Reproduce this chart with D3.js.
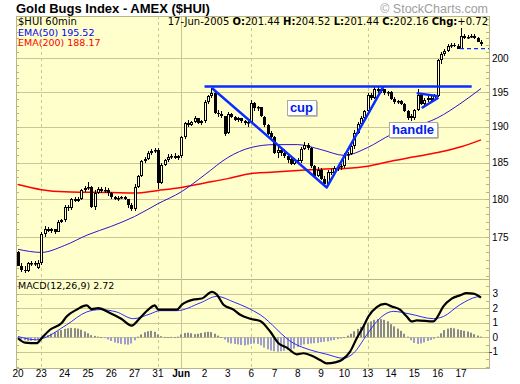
<!DOCTYPE html>
<html>
<head>
<meta charset="utf-8">
<script src="https://cdn.jsdelivr.net/npm/d3@7"></script>
<style>
  body { margin: 0; background: #fff; }
  svg { display: block; }
</style>
</head>
<body>
<svg id="chart" width="520" height="384"></svg>
<script>
// Trading days shown on the x axis (7 hourly bars per day)
const days = ["20", "23", "24", "25", "26", "27", "31", "Jun", "2", "3", "6", "7", "8", "9", "10", "13", "14", "15", "16", "17"];
const weekStarts = ["23", "31", "6", "13"];
const monthStarts = ["Jun"];
const barsPerDay = 7;

// 60 minute bars, one row per day
const opens = [
  173.0, 171.3, 170.8, 170.6, 171.6, 171.5, 171.0,
  171.7, 175.4, 176.0, 175.8, 176.0, 175.7, 177.0,
  177.2, 179.0, 178.8, 180.0, 179.8, 180.1, 181.3,
  181.5, 181.6, 179.0, 180.9, 181.4, 181.1, 181.3,
  180.8, 180.3, 180.1, 180.2, 180.3, 180.0, 179.3,
  178.7, 181.7, 183.1, 185.2, 185.5, 186.3, 186.6,
  186.8, 182.2, 184.7, 185.3, 185.8, 185.9, 185.7,
  185.9, 188.5, 190.5, 190.3, 190.7, 191.2, 190.6,
  190.8, 193.6, 194.4, 194.9, 192.0, 191.8, 191.5,
  189.2, 191.8, 191.4, 191.0, 191.2, 190.8, 190.5,
  190.7, 193.4, 192.7, 192.8, 191.4, 190.2, 189.1,
  188.5, 186.4, 186.8, 186.3, 185.9, 185.5, 184.8,
  185.4, 185.2, 186.9, 187.5, 187.0, 184.5, 183.2,
  184.0, 182.8, 182.0, 183.7, 183.6, 184.2, 184.4,
  184.5, 186.0, 186.2, 187.3, 189.2, 190.4, 191.3,
  192.2, 194.6, 194.2, 195.4, 195.1, 195.4, 194.9,
  195.0, 194.0, 193.5, 193.7, 193.3, 192.3, 191.2,
  191.3, 192.4, 194.6, 193.3, 193.9, 194.2, 193.9,
  194.5, 199.7, 200.7, 201.1, 201.8, 202.0, 201.9,
  201.44, 203.4, 203.1, 203.2, 203.3, 203.0, 202.5
];
const highs = [
  173.2, 171.6, 171.2, 171.8, 171.9, 171.9, 172.0,
  175.6, 176.4, 176.3, 176.2, 176.1, 177.2, 177.4,
  179.3, 179.2, 180.2, 180.3, 180.3, 181.4, 181.8,
  182.3, 181.8, 181.2, 181.7, 181.6, 181.7, 181.5,
  181.0, 180.5, 180.4, 180.5, 180.4, 180.1, 179.5,
  182.0, 183.3, 185.3, 185.8, 186.6, 186.9, 187.0,
  187.0, 184.9, 185.5, 186.2, 186.2, 186.3, 186.1,
  188.7, 190.7, 191.0, 190.9, 191.5, 191.3, 191.0,
  193.8, 194.6, 195.6, 195.1, 192.4, 192.2, 191.6,
  192.1, 192.0, 191.6, 191.4, 191.3, 191.0, 190.9,
  193.8, 193.6, 193.0, 192.9, 191.5, 190.4, 189.4,
  188.7, 187.2, 187.0, 186.9, 186.1, 185.8, 185.6,
  185.7, 187.1, 187.9, 187.7, 187.1, 184.6, 184.4,
  184.2, 183.1, 184.0, 184.1, 184.5, 184.6, 184.8,
  186.3, 186.5, 187.5, 189.5, 190.7, 191.6, 192.4,
  194.8, 194.9, 195.7, 195.7, 195.6, 195.5, 195.2,
  195.1, 194.3, 193.9, 193.9, 193.4, 192.4, 191.8,
  192.6, 195.4, 194.7, 194.2, 194.6, 194.5, 194.7,
  199.9, 201.0, 201.4, 202.1, 202.3, 202.3, 202.2,
  204.52, 203.6, 203.5, 203.6, 203.6, 203.2, 202.7
];
const lows = [
  171.2, 170.5, 170.3, 170.5, 171.3, 171.2, 170.9,
  171.4, 175.0, 175.6, 175.5, 175.4, 175.6, 176.8,
  177.0, 178.5, 178.6, 179.6, 179.6, 179.9, 181.0,
  181.2, 178.8, 178.6, 180.7, 180.9, 180.9, 180.5,
  180.0, 179.9, 179.8, 180.0, 179.9, 178.9, 178.5,
  178.5, 181.5, 183.0, 184.9, 185.4, 186.0, 186.3,
  181.4, 182.0, 184.5, 185.1, 185.5, 185.5, 185.3,
  185.7, 188.3, 190.0, 190.1, 190.5, 190.4, 190.3,
  190.6, 193.3, 194.1, 191.8, 191.4, 191.3, 188.7,
  189.0, 191.2, 190.9, 190.7, 190.6, 190.2, 190.0,
  190.6, 192.3, 192.2, 191.4, 190.0, 188.8, 188.3,
  186.2, 185.6, 185.9, 185.7, 184.9, 184.6, 184.6,
  184.9, 185.0, 186.7, 186.8, 184.3, 183.0, 183.0,
  182.6, 181.6, 181.9, 183.3, 183.4, 183.8, 184.0,
  184.3, 185.4, 186.0, 186.9, 189.0, 190.2, 191.0,
  192.0, 193.8, 194.0, 194.8, 194.9, 194.6, 194.5,
  193.8, 193.3, 193.3, 193.1, 192.1, 191.0, 190.9,
  191.0, 192.2, 193.1, 193.2, 193.6, 193.7, 193.8,
  194.3, 199.2, 200.3, 200.9, 201.6, 201.7, 201.4,
  201.44, 202.9, 202.9, 203.0, 202.9, 202.4, 201.9
];
const closes = [
  171.3, 170.8, 170.6, 171.6, 171.6, 171.7, 171.7,
  175.4, 176.0, 175.8, 176.0, 175.7, 177.0, 177.2,
  179.0, 178.8, 180.0, 179.8, 180.1, 181.3, 181.5,
  181.6, 179.0, 180.9, 181.4, 181.1, 181.3, 180.8,
  180.3, 180.1, 180.2, 180.3, 180.0, 179.3, 178.7,
  181.7, 183.1, 185.2, 185.5, 186.3, 186.6, 186.8,
  182.2, 184.7, 185.3, 185.8, 185.9, 185.7, 185.9,
  188.5, 190.5, 190.3, 190.7, 191.2, 190.6, 190.8,
  193.6, 194.4, 194.9, 192.0, 191.8, 191.5, 189.0,
  191.8, 191.4, 191.0, 191.2, 190.8, 190.5, 190.7,
  193.4, 192.7, 192.8, 191.6, 190.2, 189.0, 188.5,
  186.4, 186.8, 186.3, 185.9, 185.3, 184.8, 185.4,
  185.2, 186.9, 187.5, 187.0, 184.5, 183.2, 184.0,
  182.8, 182.0, 183.7, 183.6, 184.2, 184.4, 184.5,
  186.0, 186.2, 187.3, 189.2, 190.4, 191.3, 192.2,
  194.6, 194.2, 195.4, 195.1, 195.4, 194.9, 195.0,
  194.0, 193.5, 193.7, 193.3, 192.3, 191.2, 191.5,
  192.4, 194.6, 193.3, 193.9, 194.2, 193.9, 194.5,
  199.7, 200.7, 201.1, 201.8, 202.0, 201.9, 201.44,
  203.4, 203.1, 203.2, 203.3, 203.0, 202.5, 202.16
];

// Moving averages read at the first bar of each day (plus the last bar)
const emaIdx = [0, 7, 14, 21, 28, 35, 42, 49, 56, 63, 70, 77, 84, 91, 98, 105, 112, 119, 126, 133, 139];
const ema50 = [173.4, 173.0, 173.9, 175.3, 176.4, 177.7, 179.4, 181.0, 183.3, 185.7, 187.1, 187.5, 187.5, 186.8, 186.0, 187.1, 188.9, 190.0, 191.3, 193.4, 195.52];
const ema200 = [182.0, 181.3, 181.0, 180.95, 180.9, 180.85, 181.2, 181.6, 182.2, 182.8, 183.5, 183.7, 183.9, 184.1, 184.2, 184.5, 185.2, 185.8, 186.4, 187.2, 188.17];

// MACD(12,26,9)
const macdIdx = [0, 2.1, 5.6, 7.1, 9.6, 13.1, 14.6, 17.6, 20.6, 22.1, 24.1, 27.6, 31.1, 34.1, 36.6, 39.1, 41.1, 42.1, 47.7, 49.2, 52.6, 55.2, 58.2, 59.7, 61.7, 64.7, 66.7, 69.7, 72.7, 75.7, 78.2, 80.7, 83.7, 85.7, 88.2, 90.7, 92.7, 95.2, 97.2, 99.7, 101.7, 103.7, 105.2, 107.7, 110.2, 112.2, 114.7, 116.7, 118.2, 119.7, 124.7, 125.7, 127.7, 130.2, 132.7, 134.7, 136.7, 139];
const macdVals = [-0.06, -0.36, -0.4, -0.06, 0.52, 0.98, 1.43, 1.9, 2.19, 1.94, 2.0, 1.67, 1.26, 0.81, 1.32, 1.9, 2.19, 1.9, 1.9, 2.24, 2.59, 2.66, 3.12, 2.93, 2.24, 1.9, 1.55, 1.28, 1.12, 0.4, -0.4, -0.7, -1.16, -1.09, -1.26, -1.55, -1.78, -1.71, -1.55, -0.98, -0.06, 0.74, 1.43, 2.08, 2.29, 2.12, 1.9, 1.43, 1.09, 1.16, 1.09, 1.32, 2.12, 2.66, 2.88, 3.03, 3.0, 2.72];
const sigIdx = [0, 5.6, 7.6, 14.6, 20.6, 24.6, 29.6, 34.6, 39.6, 42.6, 47.7, 54.7, 59.7, 64.7, 72.7, 82.7, 87.7, 92.7, 97.7, 100.7, 104.7, 107.7, 112.7, 117.7, 124.7, 127.7, 132.7, 137.7, 139];
const sigVals = [0.06, -0.17, -0.06, 0.86, 1.74, 1.9, 1.74, 1.28, 1.6, 1.83, 1.83, 2.36, 2.81, 2.43, 1.55, -0.4, -0.86, -1.16, -1.43, -1.09, 0.17, 1.09, 1.78, 1.6, 1.28, 1.43, 2.24, 2.77, 2.81];
const histVals = [
  -0.05, -0.15, -0.2, -0.25, -0.25, -0.22, -0.18,
  -0.08, 0.05, 0.15, 0.25, 0.33, 0.42, 0.5,
  0.58, 0.62, 0.65, 0.63, 0.6, 0.52, 0.4,
  0.28, 0.15, 0.1, 0.05, 0.02, -0.05, -0.15,
  -0.25, -0.35, -0.4, -0.45, -0.48, -0.5, -0.42,
  -0.2, 0.05, 0.2, 0.35, 0.42, 0.45, 0.38,
  0.2, 0.08, 0.03, 0.02, 0.03, 0.02, 0.05,
  0.2, 0.3, 0.32, 0.28, 0.22, 0.25, 0.3,
  0.35, 0.38, 0.36, 0.25, 0.12, 0.02, -0.15,
  -0.35, -0.42, -0.45, -0.48, -0.52, -0.55, -0.5,
  -0.45, -0.42, -0.45, -0.55, -0.7, -0.82, -0.9,
  -0.95, -0.98, -0.95, -0.92, -0.88, -0.85, -0.78,
  -0.65, -0.55, -0.48, -0.45, -0.42, -0.4, -0.38,
  -0.33, -0.3, -0.28, -0.22, -0.18, -0.12, -0.08,
  0.02, 0.12, 0.25, 0.42, 0.58, 0.72, 0.88,
  1.0, 1.1, 1.2, 1.26, 1.25, 1.2, 1.1,
  0.9, 0.75, 0.6, 0.45, 0.25, 0.05, -0.2,
  -0.38, -0.45, -0.42, -0.35, -0.25, -0.18, -0.1,
  0.05, 0.28, 0.5, 0.6, 0.65, 0.62, 0.55,
  0.5, 0.45, 0.4, 0.32, 0.22, 0.12, 0.05
];

// Axis ticks
const priceTicks = [175, 180, 185, 190, 195, 200];
const macdTicks = [3, 2, 1, 0, -1];

// Cup and handle drawing (bar index, price)
const resistance = [{ i: 56, p: 195.8 }, { i: 136.2, p: 195.8 }];
const cupLine = [{ i: 58.2, p: 195.6 }, { i: 92.7, p: 181.6 }, { i: 109.7, p: 195.8 }];
const handleUpper = [{ i: 119.7, p: 194.85 }, { i: 126.2, p: 194.4 }];
const handleLower = [{ i: 121.2, p: 192.7 }, { i: 126.2, p: 194.2 }];
const prevClose = 201.44;
const notes = [{ text: "cup", i: 85.1, p: 192.8 }, { text: "handle", i: 118.6, p: 189.66 }];

const svg = d3.select("#chart");
const panelLeft = 16, panelRight = 489, panelTop = 16, priceBottom = 279, macdBottom = 368;
const yellow = "#ffffcc";
const gridColor = "#cdc593";

const x = d3.scaleLinear().domain([0, 139]).range([18, 481]);
const y = d3.scaleLog().domain([169.6, 206.4]).range([priceBottom, panelTop]);
const yM = d3.scaleLinear().domain([-2.1, 4]).range([macdBottom, priceBottom]);

// Panels
svg.append("rect")
  .attr("x", panelLeft + 0.5).attr("y", panelTop + 0.5)
  .attr("width", panelRight - panelLeft).attr("height", priceBottom - panelTop)
  .attr("fill", yellow).attr("stroke", "#b9b48c");
svg.append("rect")
  .attr("x", panelLeft + 0.5).attr("y", priceBottom + 0.5)
  .attr("width", panelRight - panelLeft).attr("height", macdBottom - priceBottom)
  .attr("fill", yellow).attr("stroke", "#b9b48c");

// Horizontal grid
const grid = svg.append("g");
priceTicks.forEach((p) => {
  const yy = Math.round(y(p)) + 0.5;
  grid.append("line").attr("x1", panelLeft).attr("x2", panelRight)
    .attr("y1", yy).attr("y2", yy).attr("stroke", gridColor);
});
macdTicks.forEach((v) => {
  const yy = Math.round(yM(v)) + 0.5;
  grid.append("line").attr("x1", panelLeft).attr("x2", panelRight)
    .attr("y1", yy).attr("y2", yy).attr("stroke", gridColor);
});

// Vertical grid: dashed at week starts, solid at month start
days.forEach((d, k) => {
  const xx = Math.round(x(k * barsPerDay)) + 0.5;
  if (weekStarts.includes(d)) {
    grid.append("line").attr("x1", xx).attr("x2", xx)
      .attr("y1", panelTop).attr("y2", macdBottom)
      .attr("stroke", gridColor).attr("stroke-dasharray", "3,3");
  } else if (monthStarts.includes(d)) {
    grid.append("line").attr("x1", xx).attr("x2", xx)
      .attr("y1", panelTop).attr("y2", macdBottom)
      .attr("stroke", gridColor);
  }
});

// Minor ticks on both edges
const ticks = svg.append("g").attr("stroke", "#b9b48c");
d3.range(170, 207).forEach((p) => {
  const yy = Math.round(y(p)) + 0.5;
  ticks.append("line").attr("x1", panelLeft).attr("x2", panelLeft + 3).attr("y1", yy).attr("y2", yy);
  ticks.append("line").attr("x1", panelRight - 3).attr("x2", panelRight).attr("y1", yy).attr("y2", yy);
});
d3.range(-2, 4, 0.5).forEach((v) => {
  const yy = Math.round(yM(v)) + 0.5;
  ticks.append("line").attr("x1", panelLeft).attr("x2", panelLeft + 3).attr("y1", yy).attr("y2", yy);
  ticks.append("line").attr("x1", panelRight - 3).attr("x2", panelRight).attr("y1", yy).attr("y2", yy);
});

// Moving averages
const maLine = d3.line().x((d) => x(d.i)).y((d) => y(d.v)).curve(d3.curveMonotoneX);
svg.append("path")
  .datum(emaIdx.map((i, k) => ({ i, v: ema200[k] })))
  .attr("d", maLine).attr("fill", "none").attr("stroke", "#ff0000").attr("stroke-width", 1.5);
svg.append("path")
  .datum(emaIdx.map((i, k) => ({ i, v: ema50[k] })))
  .attr("d", maLine).attr("fill", "none").attr("stroke", "#3311cc").attr("stroke-width", 1);

// Candles
const bars = opens.map((o, i) => ({ i, o, h: highs[i], l: lows[i], c: closes[i] }));
const cg = svg.append("g");
bars.forEach((d) => {
  const cx = Math.round(x(d.i));
  const top = Math.round(y(Math.max(d.o, d.c)));
  const bot = Math.max(Math.round(y(Math.min(d.o, d.c))), top + 1);
  const hi = Math.round(y(d.h)), lo = Math.round(y(d.l));
  cg.append("line").attr("x1", cx + 0.5).attr("x2", cx + 0.5)
    .attr("y1", hi).attr("y2", top).attr("stroke", "#000");
  cg.append("line").attr("x1", cx + 0.5).attr("x2", cx + 0.5)
    .attr("y1", bot).attr("y2", lo).attr("stroke", "#000");
  if (d.c >= d.o) {
    cg.append("rect").attr("x", cx - 0.5).attr("y", top + 0.5)
      .attr("width", 2).attr("height", Math.max(bot - top - 1, 0.5))
      .attr("fill", yellow).attr("stroke", "#000");
  } else {
    cg.append("rect").attr("x", cx - 1).attr("y", top)
      .attr("width", 3).attr("height", bot - top).attr("fill", "#000");
  }
});

// Cup and handle annotation
const annLine = d3.line().x((d) => x(d.i)).y((d) => y(d.p));
const blue = "#0a2cff";
[resistance, cupLine, handleUpper, handleLower].forEach((pts) => {
  svg.append("path").datum(pts).attr("d", annLine)
    .attr("fill", "none").attr("stroke", blue).attr("stroke-width", 2.5)
    .attr("stroke-linejoin", "round");
});
svg.append("line")
  .attr("x1", x(132.7)).attr("x2", panelRight)
  .attr("y1", y(prevClose)).attr("y2", y(prevClose))
  .attr("stroke", blue).attr("stroke-width", 1.3).attr("stroke-dasharray", "4,3");

notes.forEach((n) => {
  const g = svg.append("g");
  const t = g.append("text").attr("x", x(n.i)).attr("y", y(n.p) + 4.5)
    .attr("text-anchor", "middle")
    .style("font", "bold 13px 'Liberation Sans', Arial, sans-serif")
    .attr("fill", "#0020e8").text(n.text);
  const bb = t.node().getBBox();
  const bx = Math.round(bb.x - 3), by = Math.round(y(n.p) - 7.5);
  const bw = Math.round(bb.width + 6), bh = 15;
  g.insert("rect", "text").attr("x", bx + 1.5).attr("y", by + 1.5)
    .attr("width", bw).attr("height", bh).attr("fill", "#808080");
  g.insert("rect", "text").attr("x", bx + 0.5).attr("y", by + 0.5)
    .attr("width", bw).attr("height", bh).attr("fill", "#fff").attr("stroke", "#a8a8a8");
});

// MACD histogram and lines
const hg = svg.append("g");
histVals.forEach((v, i) => {
  const cx = Math.round(x(i));
  const y0 = yM(0), y1 = yM(v);
  hg.append("rect").attr("x", cx - 1).attr("y", Math.min(y0, y1))
    .attr("width", 2).attr("height", Math.max(Math.abs(y1 - y0), 0.8))
    .attr("fill", v >= 0 ? "#8a8a8a" : "#9d9dcf");
});
const mLine = d3.line().x((d) => x(d.i)).y((d) => yM(d.v)).curve(d3.curveMonotoneX);
svg.append("path")
  .datum(sigIdx.map((i, k) => ({ i, v: sigVals[k] })))
  .attr("d", mLine).attr("fill", "none").attr("stroke", "#2b2bff").attr("stroke-width", 1);
svg.append("path")
  .datum(macdIdx.map((i, k) => ({ i, v: macdVals[k] })))
  .attr("d", mLine).attr("fill", "none").attr("stroke", "#000").attr("stroke-width", 2.2);

// Right axis labels
const axisFont = "10px 'Liberation Sans', Arial, sans-serif";
priceTicks.forEach((p) => {
  svg.append("text").attr("x", 492).attr("y", y(p) + 3.5)
    .style("font", axisFont).text(p);
});
macdTicks.forEach((v) => {
  svg.append("text").attr("x", 498).attr("y", yM(v) + 3.5)
    .attr("text-anchor", "end").style("font", axisFont).text(v);
});

// Bottom day labels
days.forEach((d, k) => {
  svg.append("text").attr("x", x(k * barsPerDay)).attr("y", 377)
    .attr("text-anchor", "middle")
    .style("font", (monthStarts.includes(d) ? "bold " : "") + axisFont)
    .text(d);
});

// Titles and legends
svg.append("text").attr("x", 16).attr("y", 13)
  .style("font", "bold 13px 'Liberation Sans', Arial, sans-serif")
  .text("Gold Bugs Index - AMEX ($HUI)");
svg.append("text").attr("x", 488).attr("y", 13).attr("text-anchor", "end")
  .style("font", "12.5px 'Liberation Sans', Arial, sans-serif").attr("fill", "#a0a0a0")
  .text("\u00a9 StockCharts.com");

const legendFont = "10px 'DejaVu Sans', sans-serif";
svg.append("text").attr("x", 18).attr("y", 25).style("font", legendFont).text("$HUI 60min");
svg.append("text").attr("x", 18).attr("y", 35.5).style("font", "9.5px 'DejaVu Sans', sans-serif")
  .attr("fill", "#0000ff").text("EMA(50) 195.52");
svg.append("text").attr("x", 18).attr("y", 45.5).style("font", "9.5px 'DejaVu Sans', sans-serif")
  .attr("fill", "#ff0000").text("EMA(200) 188.17");

const quote = [["17-Jun-2005 ", false], ["O:", true], ["201.44 ", false], ["H:", true], ["204.52 ", false],
  ["L:", true], ["201.44 ", false], ["C:", true], ["202.16 ", false], ["Chg:", true], ["+0.72", false]];
const qt = svg.append("text").attr("x", 488).attr("y", 25).attr("text-anchor", "end")
  .style("font", legendFont).attr("xml:space", "preserve");
quote.forEach(([s, b]) => {
  qt.append("tspan").style("font-weight", b ? "bold" : "normal").text(s);
});

svg.append("text").attr("x", 18).attr("y", 289)
  .style("font", "9.5px 'DejaVu Sans', sans-serif").text("MACD(12,26,9) 2.72");
</script>
</body>
</html>
